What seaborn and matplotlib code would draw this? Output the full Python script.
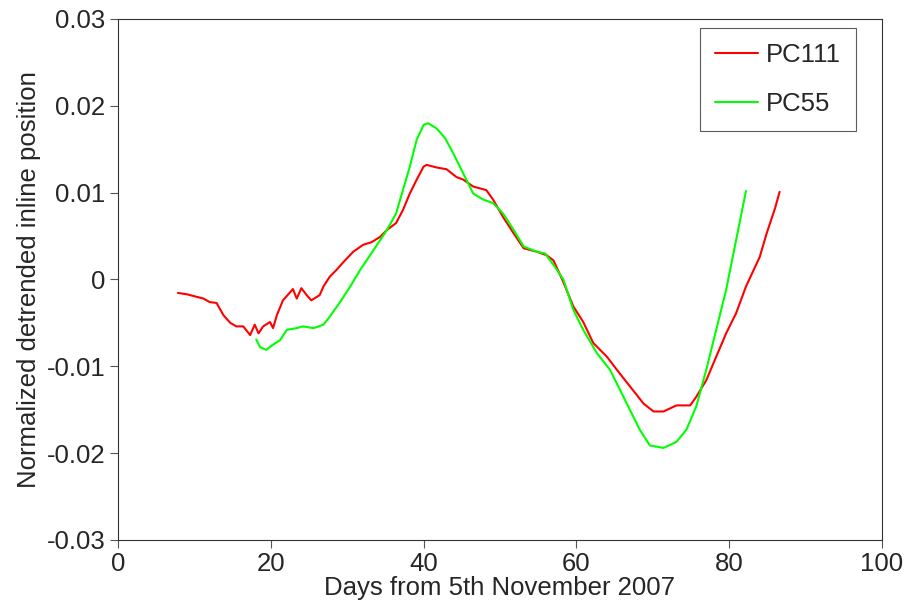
import pandas as pd
import matplotlib
matplotlib.use("Agg")
import matplotlib.pyplot as plt
import seaborn as sns

# PC111 (red)
pc111_days = [7.85, 9.0, 11.2, 12.0, 12.9, 13.8, 14.7, 15.5, 16.4, 17.3, 17.9, 18.4,
              19.0, 19.9, 20.3, 20.8, 21.6, 22.9, 23.4, 24.0, 24.7, 25.3, 26.4, 26.9,
              27.7, 28.6, 29.5, 30.8, 32.1, 33.2, 34.3, 35.2, 36.4, 37.3, 38.2, 39.1,
              40.0, 40.4, 41.7, 43.0, 44.3, 45.2, 46.5, 48.2, 49.1, 50.4, 51.8, 53.1,
              54.8, 56.1, 57.0, 58.2, 59.6, 60.9, 62.2, 64.0, 65.3, 67.0, 68.8, 70.1,
              71.4, 73.1, 74.9, 75.7, 77.0, 78.3, 79.6, 80.9, 82.2, 84.0, 84.9, 86.0, 86.6]
pc111_vals = [-0.00155, -0.0017, -0.0022, -0.0026, -0.0027, -0.0041, -0.0050, -0.0054,
              -0.0054, -0.0064, -0.0052, -0.0062, -0.0054, -0.0049, -0.0056, -0.0041,
              -0.0024, -0.0011, -0.0022, -0.0010, -0.0018, -0.0024, -0.0018, -0.0008,
              0.0003, 0.0011, 0.0020, 0.0032, 0.0040, 0.0043, 0.0049, 0.0057, 0.0065,
              0.0080, 0.0099, 0.0115, 0.0130, 0.0132, 0.0129, 0.0127, 0.0118, 0.0115,
              0.0107, 0.0103, 0.0092, 0.0072, 0.0053, 0.0036, 0.0032, 0.0028, 0.0022,
              -0.0001, -0.0031, -0.0049, -0.0073, -0.0089, -0.0104, -0.0123, -0.0143,
              -0.0152, -0.0152, -0.0145, -0.0145, -0.0135, -0.0116, -0.0089, -0.0062,
              -0.0039, -0.0008, 0.0026, 0.0053, 0.0082, 0.0101]

# PC55 (green)
pc55_days = [18.1, 18.6, 19.4, 20.3, 21.2, 22.1, 23.4, 24.2, 25.6, 26.9, 27.7, 29.0,
             30.4, 31.7, 33.0, 34.3, 35.2, 36.4, 37.3, 38.2, 39.1, 40.0, 40.6, 41.7,
             42.8, 43.9, 45.2, 46.5, 47.8, 49.1, 50.4, 51.8, 53.1, 54.8, 55.9, 57.0,
             58.3, 59.6, 60.9, 62.7, 64.4, 65.7, 67.0, 68.3, 69.6, 71.4, 73.1, 74.4,
             75.7, 77.0, 78.3, 79.6, 80.9, 82.2]
pc55_vals = [-0.0069, -0.0078, -0.0081, -0.0075, -0.0070, -0.0058, -0.0056, -0.0054,
             -0.0056, -0.0052, -0.0043, -0.0027, -0.0008, 0.0011, 0.0028, 0.0045,
             0.0057, 0.0076, 0.0103, 0.0130, 0.0161, 0.0178, 0.0180, 0.0174, 0.0163,
             0.0145, 0.0122, 0.0099, 0.0092, 0.0088, 0.0076, 0.0057, 0.0038, 0.0032,
             0.0030, 0.0017, 0.0000, -0.0035, -0.0058, -0.0085, -0.0104, -0.0127,
             -0.0150, -0.0173, -0.0191, -0.0194, -0.0187, -0.0173, -0.0146, -0.0104,
             -0.0058, -0.0012, 0.0045, 0.0102]

x_ticks = [0, 20, 40, 60, 80, 100]
y_ticks = [0.03, 0.02, 0.01, 0, -0.01, -0.02, -0.03]
y_tick_labels = ["0.03", "0.02", "0.01", "0", "-0.01", "-0.02", "-0.03"]

df = pd.concat([
    pd.DataFrame({"day": pc111_days, "value": pc111_vals, "series": "PC111"}),
    pd.DataFrame({"day": pc55_days, "value": pc55_vals, "series": "PC55"}),
], ignore_index=True)

sns.set_style("ticks")
plt.rcParams["font.family"] = ["Liberation Sans", "DejaVu Sans"]
plt.rcParams["axes.unicode_minus"] = False

fig = plt.figure(figsize=(9.06, 6.07), dpi=100)
ax = fig.add_axes([0.1302, 0.1104, 0.8433, 0.8583])

sns.lineplot(data=df, x="day", y="value", hue="series", sort=False, estimator=None,
             palette={"PC111": "#ff0000", "PC55": "#00ff00"}, linewidth=1.5, ax=ax)

ax.set_xlim(0, 100)
ax.set_ylim(-0.03, 0.03)
ax.set_xticks(x_ticks)
ax.set_yticks(y_ticks)
ax.set_yticklabels(y_tick_labels)
ax.tick_params(labelsize=18.5, direction="out", length=6, width=0.8, color="#555555", pad=3)
for sp in ax.spines.values():
    sp.set_linewidth(0.8)
    sp.set_color("#333333")

ax.set_xlabel("Days from 5th November 2007", fontsize=18.5, labelpad=0)
ax.set_ylabel("Normalized detrended inline position", fontsize=18.5, labelpad=4)

leg = ax.legend(loc="upper right", bbox_to_anchor=(0.966, 0.983), fontsize=18.5,
                frameon=True, fancybox=False, handlelength=1.65, labelspacing=0.95,
                borderpad=0.6, handletextpad=0.3, borderaxespad=0)
leg.get_frame().set_edgecolor("#333333")
leg.get_frame().set_linewidth(0.8)
for line in leg.get_lines():
    line.set_linewidth(1.5)

fig.savefig("out.png", dpi=100)
